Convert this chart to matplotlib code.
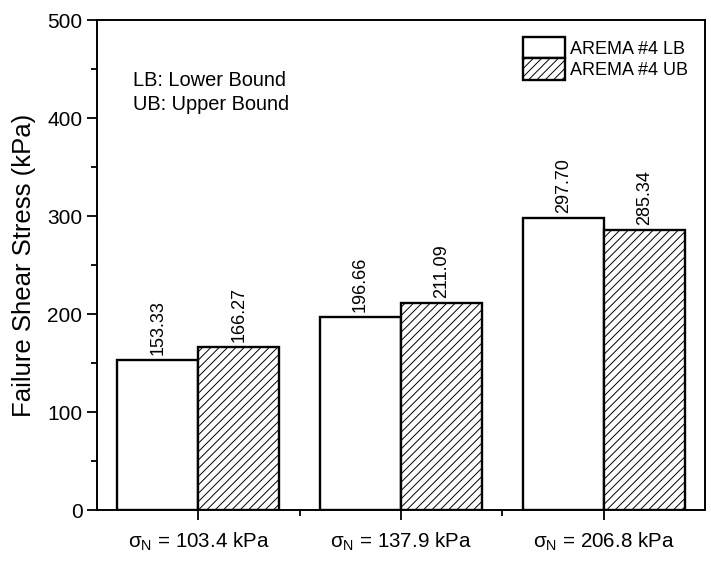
import matplotlib
matplotlib.use("Agg")
import matplotlib.pyplot as plt
import numpy as np

plt.rcParams['font.family'] = ['Liberation Sans', 'DejaVu Sans']
plt.rcParams['mathtext.fontset'] = 'custom'
plt.rcParams['mathtext.rm'] = 'Liberation Sans'
plt.rcParams['mathtext.it'] = 'Liberation Sans:italic'
plt.rcParams['hatch.linewidth'] = 0.7
plt.rcParams['hatch.color'] = '#444444'

categories = [r'$\mathregular{\sigma_N}$ = 103.4 kPa',
              r'$\mathregular{\sigma_N}$ = 137.9 kPa',
              r'$\mathregular{\sigma_N}$ = 206.8 kPa']
lb_values = [153.33, 196.66, 297.70]
ub_values = [166.27, 211.09, 285.34]
series_names = ['AREMA #4 LB', 'AREMA #4 UB']

W, H = 711, 582
fig = plt.figure(figsize=(W/100, H/100), dpi=100)
L, R, T, B = 97, 705, 20, 510
ax = fig.add_axes([L/W, 1 - B/H, (R-L)/W, (B-T)/H])

x = np.arange(1, len(categories) + 1)
w = 0.4
b1 = ax.bar(x - w/2, lb_values, w, facecolor='white', edgecolor='black', linewidth=1.7, label=series_names[0])
b2 = ax.bar(x + w/2, ub_values, w, facecolor='white', edgecolor='black', linewidth=1.7, hatch='////', label=series_names[1])

for bars, vals in [(b1, lb_values), (b2, ub_values)]:
    for r, v in zip(bars, vals):
        ax.text(r.get_x() + r.get_width()/2, v + 5, f'{v:.2f}', rotation=90,
                ha='center', va='bottom', fontsize=13)

ax.set_xlim(0.5, 3.5)
ax.set_ylim(0, 500)
ax.set_xticks(x)
ax.set_xticklabels(categories)
ax.set_xticks([1.5, 2.5], minor=True)
ax.set_yticks(np.arange(0, 501, 100))
ax.set_yticks(np.arange(50, 500, 100), minor=True)
ax.tick_params(axis='both', which='major', direction='out', length=7, width=1.3, labelsize=15)
ax.tick_params(axis='x', which='major', labelsize=14.8, pad=8)
ax.tick_params(axis='both', which='minor', direction='out', length=4.5, width=1.3)
for s in ax.spines.values():
    s.set_linewidth(1.4)
ax.set_ylabel('Failure Shear Stress (kPa)', fontsize=18.5, labelpad=8)

ax.text((133-L)/(R-L), (B-80)/(B-T), 'LB: Lower Bound', transform=ax.transAxes, fontsize=14.4, va='center', ha='left')
ax.text((133-L)/(R-L), (B-104)/(B-T), 'UB: Upper Bound', transform=ax.transAxes, fontsize=14.4, va='center', ha='left')

leg = ax.legend(loc='upper left', frameon=False, fontsize=13, handlelength=2.33,
                handleheight=1.45, labelspacing=0.0, handletextpad=0.28,
                borderpad=0.0, borderaxespad=0.0,
                bbox_to_anchor=((523-L)/(R-L), (B-37)/(B-T)))

fig.savefig('out.png', dpi=100)
